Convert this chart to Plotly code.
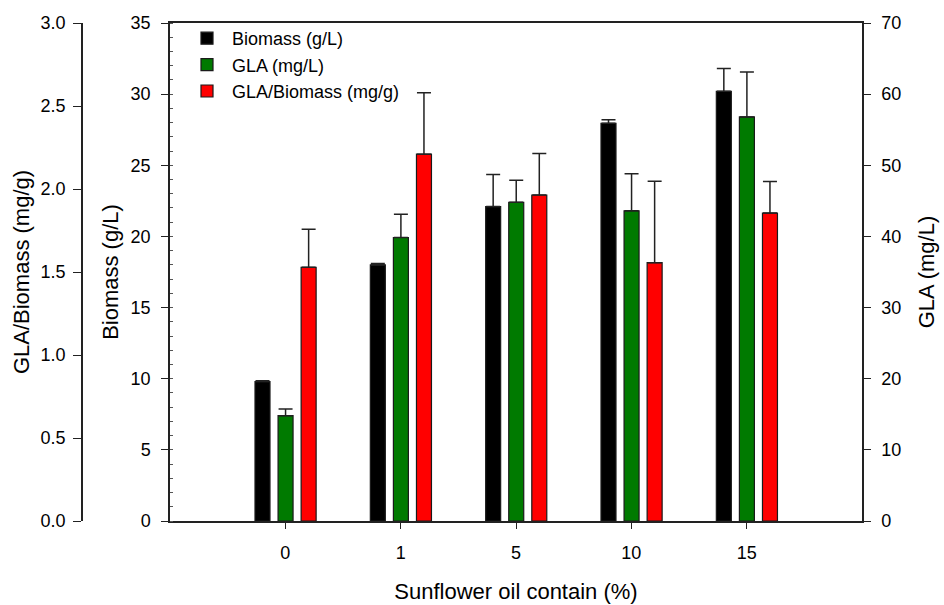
import plotly.graph_objects as go

categories = ["0", "1", "5", "10", "15"]
biomass = [9.8, 18.0, 22.1, 27.95, 30.2]
biomass_err = [0.05, 0.1, 2.25, 0.25, 1.6]
gla = [14.8, 39.85, 44.8, 43.6, 56.8]
gla_err = [0.95, 3.25, 3.1, 5.2, 6.3]
ratio = [1.528, 2.21, 1.964, 1.556, 1.855]
ratio_err = [0.23, 0.37, 0.25, 0.49, 0.19]

FONT = "Liberation Sans, Arial, sans-serif"
W = 944
line_col = "#222222"

def bar(name, y, err, color, yaxis, offset):
    return go.Bar(
        x=categories, y=y, name=name, yaxis=yaxis,
        marker=dict(color=color, line=dict(color="#1a1a1a", width=1.2)),
        width=0.13, offset=offset,
        error_y=dict(type="data", array=err, symmetric=False, arrayminus=[0]*len(err),
                     color=line_col, thickness=1.5, width=7),
    )

fig = go.Figure()
fig.add_trace(bar("Biomass (g/L)", biomass, biomass_err, "#000000", "y", -0.263))
fig.add_trace(bar("GLA (mg/L)", gla, gla_err, "#007a00", "y2", -0.063))
fig.add_trace(bar("GLA/Biomass (mg/g)", ratio, ratio_err, "#ff0000", "y3", 0.137))

tickfont = dict(family=FONT, size=18, color="black")
titlefont = dict(family=FONT, size=22, color="black")

fig.update_layout(
    width=944, height=605,
    margin=dict(l=0, r=0, t=23, b=84),
    paper_bgcolor="white", plot_bgcolor="white",
    barmode="overlay",
    font=dict(family=FONT, color="black"),
    showlegend=True,
    legend=dict(x=182/W, y=1.006, xanchor="left", yanchor="top",
                font=dict(family=FONT, size=18, color="black"),
                bgcolor="rgba(0,0,0,0)", itemwidth=40),
    xaxis=dict(
        domain=[170/W, 862/W], type="category", range=[-1, 5],
        showline=True, linecolor=line_col, linewidth=1.5, mirror=True,
        ticks="outside", ticklen=6, tickcolor=line_col, tickwidth=1,
        tickfont=tickfont, ticklabelstandoff=9, showgrid=False, zeroline=False,
        title=dict(text="Sunflower oil contain (%)", font=titlefont, standoff=21),
    ),
    yaxis=dict(
        range=[0, 35], tickvals=[0, 5, 10, 15, 20, 25, 30, 35],
        showline=True, linecolor=line_col, linewidth=1.5,
        ticks="outside", ticklen=7, tickcolor=line_col, tickfont=tickfont,
        ticklabelstandoff=7,
        minor=dict(dtick=1, ticks="inside", ticklen=3, tickcolor="#555555"),
        showgrid=False, zeroline=False,
        title=dict(text="Biomass (g/L)", font=titlefont, standoff=6),
    ),
    yaxis2=dict(
        range=[0, 70], tickvals=[0, 10, 20, 30, 40, 50, 60, 70],
        overlaying="y", side="right", anchor="x",
        showline=True, linecolor=line_col, linewidth=1.5,
        ticks="outside", ticklen=7, tickcolor=line_col, tickfont=tickfont,
        ticklabelstandoff=7,
        showgrid=False, zeroline=False,
        title=dict(text="GLA (mg/L)", font=titlefont, standoff=18),
    ),
    yaxis3=dict(
        range=[0, 3.0], tickvals=[0, 0.5, 1.0, 1.5, 2.0, 2.5, 3.0], tickformat=".1f",
        overlaying="y", side="left", anchor="free", position=82/W,
        showline=True, linecolor=line_col, linewidth=1.5,
        ticks="outside", ticklen=8, tickcolor=line_col, tickfont=tickfont,
        ticklabelstandoff=4,
        showgrid=False, zeroline=False,
        title=dict(text="GLA/Biomass (mg/g)", font=titlefont, standoff=4),
    ),
)

fig.write_html("out.html")
